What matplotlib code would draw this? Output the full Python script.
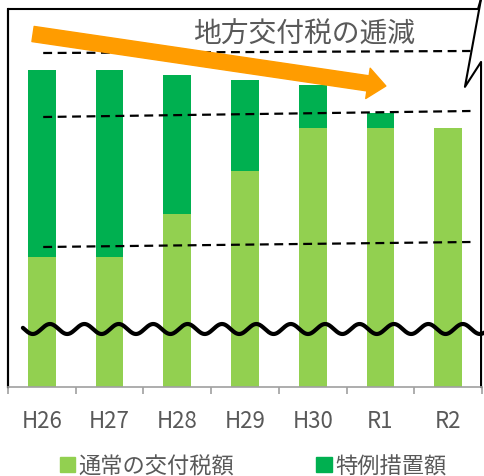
import numpy as np
import matplotlib
matplotlib.use("Agg")
import matplotlib.pyplot as plt
from matplotlib.patches import Patch
from matplotlib.lines import Line2D

plt.rcParams['font.family'] = ['Noto Sans CJK JP', 'DejaVu Sans']

# データ (目盛なしの相対値)
years = ["H26", "H27", "H28", "H29", "H30", "R1", "R2"]
normal = [130, 130, 173, 216, 259, 259, 259]     # 通常の交付税額
special = [187, 187, 139, 91, 43, 15, 0]         # 特例措置額

# 補助線 (x位置, 値) : 左端と右端
guide_x = [0.02, 6.33]
guide_hi = [334, 336]
guide_mid = [270, 276]
guide_lo = [140, 145]

c_light = "#92D050"
c_dark = "#00B050"
c_orange = "#FF9C00"
c_text = "#595959"

fig = plt.figure(figsize=(4.84, 4.77), dpi=100)
ax = fig.add_axes([8/484, 1 - 388/477, 474/484, 378/477])

x = np.arange(len(years))
ax.bar(x, normal, width=0.41, color=c_light, label="通常の交付税額", zorder=2)
ax.bar(x, special, width=0.41, bottom=normal, color=c_dark, label="特例措置額", zorder=2)

ax.set_xlim(-0.5, 6.5)
ax.set_ylim(0, 378)

# 軸
for s in ["top", "right"]:
    ax.spines[s].set_visible(False)
ax.spines["left"].set_color("black")
ax.spines["left"].set_linewidth(1.5)
ax.spines["bottom"].set_color("#A0A0A0")
ax.spines["bottom"].set_linewidth(1.2)
ax.set_yticks([])
ax.set_xticks(x)
ax.set_xticklabels(years, fontsize=16, color=c_text)
ax.set_xticks(np.arange(-0.5, 7, 1), minor=True)
ax.tick_params(axis="x", which="major", length=0, pad=16)
ax.tick_params(axis="x", which="minor", length=5, color="#A0A0A0", width=1.2)

# 点線
dash = dict(color="black", lw=1.6, linestyle=(0, (4, 2.5)), zorder=3)
ax.plot(guide_x, guide_hi, **dash)
ax.plot(guide_x, guide_mid, **dash)
ax.plot(guide_x, guide_lo, **dash)

# 矢印
ax.annotate("", xy=(5.08, 301), xytext=(-0.13, 353),
            arrowprops=dict(arrowstyle="simple,head_length=1.3,head_width=2.2,tail_width=1.1",
                            color=c_orange, shrinkA=0, shrinkB=0, mutation_scale=10),
            zorder=4, annotation_clip=False)
ax.text(2.23, 353, "地方交付税の逓減", fontsize=20, color=c_text, va="center", ha="left", zorder=5)

# 波線 (省略記号)
wx = np.linspace(-0.28, 6.53, 800)
wy = 58 + 5 * np.cos(2 * np.pi * (wx - 0.12) / 0.508)
ax.plot(wx, wy, color="black", lw=3, solid_capstyle="round", zorder=4, clip_on=False)

# 吹き出し枠
tr = ax.transAxes
ax.add_line(Line2D([0, 0, 0.9916, 0.9985], [0, 1.0, 1.0, 1.03], transform=tr,
                   color="black", lw=1.5, clip_on=False))
ax.add_line(Line2D([0.9985, 0.964, 0.998, 0.998], [1.03, 0.794, 0.860, 0.0], transform=tr,
                   color="black", lw=1.5, clip_on=False))

# 凡例
handles = [Patch(color=c_light), Patch(color=c_dark)]
fig.legend(handles, ["通常の交付税額", "特例措置額"], loc="center", ncol=2,
           bbox_to_anchor=(0.523, 0.021), frameon=False, fontsize=16,
           handlelength=0.7, handleheight=0.7, handletextpad=0.15,
           columnspacing=3.7, labelcolor=c_text)

fig.savefig("out.png", dpi=100)
